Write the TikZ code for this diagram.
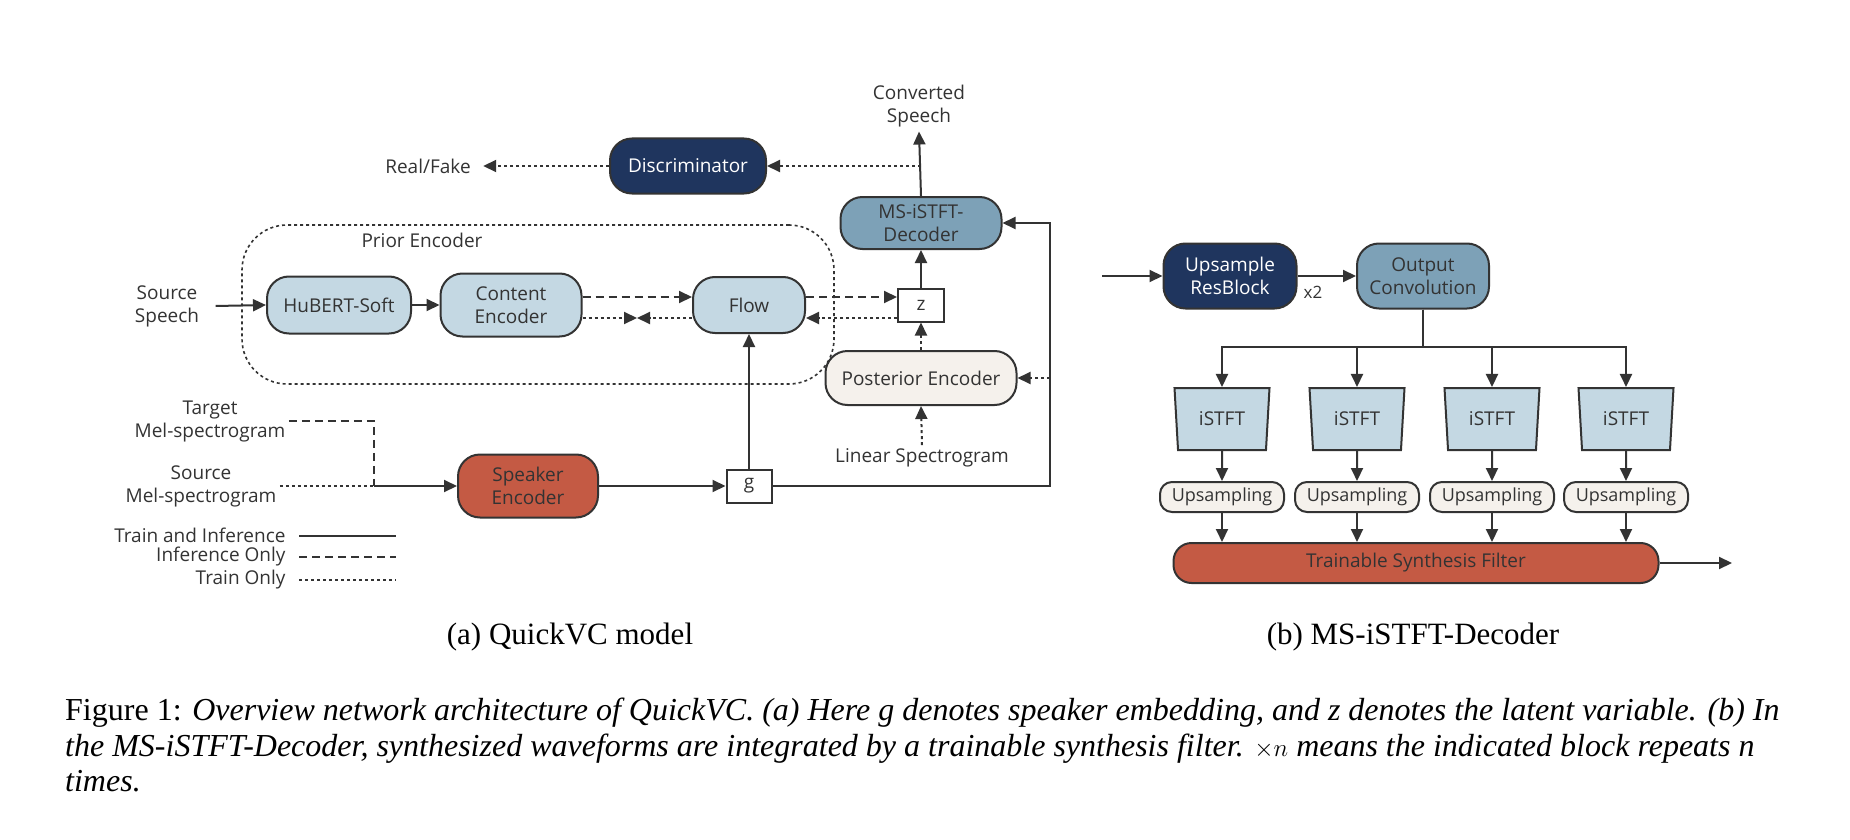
\documentclass[tikz,border=0pt]{standalone}
\usepackage{fontspec}
\setmainfont{Liberation Serif}
\newfontfamily\diafont{Open Sans}
\usetikzlibrary{arrows.meta,shapes.geometric,calc}
\definecolor{lblue}{RGB}{196,216,227}
\definecolor{mblue}{RGB}{125,161,183}
\definecolor{navy}{RGB}{31,53,94}
\definecolor{rust}{RGB}{196,90,68}
\definecolor{cream}{RGB}{245,241,236}
\definecolor{ink}{RGB}{51,51,51}
\tikzset{
  dfont/.style={font=\diafont\fontsize{19}{23}\selectfont},
  txt/.style={dfont, text=ink, align=center},
  box/.style={dfont, text=ink, draw=ink, line width=2pt, rounded corners=22pt, inner sep=0pt, align=center},
  sqbox/.style={dfont, text=ink, draw=ink, line width=2pt, fill=white, inner sep=0pt, minimum width=45pt, minimum height=33pt},
  arr/.style={draw=ink, line width=2pt, -{Triangle[length=13pt,width=12pt]}},
  ln/.style={draw=ink, line width=2pt},
  dotl/.style={dash pattern=on 3pt off 3pt},
  dashl/.style={dash pattern=on 8pt off 5pt},
  trap/.style={dfont, text=ink, draw=ink, line width=2pt, fill=lblue, trapezium, shape border rotate=180, trapezium stretches body, trapezium angle=76, minimum width=95pt, minimum height=62pt, inner sep=0pt},
  upbox/.style={box, fill=cream, rounded corners=12pt, minimum width=124pt, minimum height=30pt, font=\diafont\fontsize{18}{22}\selectfont},
  subcap/.style={font=\fontsize{31}{36}\selectfont, text=black},
  captxt/.style={font=\fontsize{32}{36}\selectfont, text=black}
}
\begin{document}
\begin{tikzpicture}[x=1pt,y=-1pt]
\useasboundingbox (0,0) rectangle (1850,840);
% ---------- (a) ----------
\node[draw=ink, line width=1.6pt, dotl, rounded corners=45pt, minimum width=592pt, minimum height=159pt, inner sep=0pt] (prior) at (538,304.5) {};
\node[txt] (priorlbl) at (422,240) {Prior Encoder};
\node[box, fill=navy, text=white, minimum width=156pt, minimum height=55pt] (disc) at (688,166) {Discriminator};
\node[txt] (rf) at (428,166) {Real/Fake};
\node[box, fill=mblue, minimum width=161pt, minimum height=52pt] (dec) at (921,223) {MS-iSTFT-\\Decoder};
\node[txt] (cs) at (919,106) {Converted\\Speech};
\node[sqbox, minimum width=46pt] (z) at (921,305) {z};
\node[box, fill=lblue, minimum width=112pt, minimum height=56pt] (flow) at (749,305) {Flow};
\node[box, fill=lblue, minimum width=144pt, minimum height=57pt] (hub) at (339,305) {HuBERT-Soft};
\node[box, fill=lblue, minimum width=141pt, minimum height=63pt] (ce) at (511,305) {Content\\Encoder};
\node[txt] (ss) at (167,306) {Source\\Speech};
\node[box, fill=cream, minimum width=191pt, minimum height=54pt] (post) at (921,378) {Posterior Encoder};
\node[txt] (lin) at (922,458) {Linear Spectrogram};
\node[sqbox] (g) at (749,486) {g};
\node[box, fill=rust, minimum width=140pt, minimum height=63pt] (spk) at (528,486) {Speaker\\Encoder};
\node[txt] (tgt) at (210,421) {Target\\Mel-spectrogram};
\node[txt] (src) at (201,486) {Source\\Mel-spectrogram};
\node[txt, anchor=east] (l1) at (289,535) {Train and Inference};
\node[txt, anchor=east] (l2) at (289,557) {Inference Only};
\node[txt, anchor=east] (l3) at (289,580) {Train Only};
\coordinate (l1e) at (396,536);
\coordinate (l2e) at (396,557);
\coordinate (l3e) at (396,580);
\coordinate (bt) at (637,318);
\coordinate (jn) at (374,486);
\coordinate (corner) at (1050,486);

\draw[arr, dotl] (disc.west) -- ([xshift=9pt]rf.east);
\draw[arr] (dec.north) -- ([yshift=-1pt]cs.south);
\draw[arr, dotl] (dec.north |- disc.east) -- (disc.east);
\draw[arr] (z.north) -- (dec.south);
\draw[arr, dashl] ([yshift=8pt]ce.east) -- ([yshift=8pt]flow.west);
\draw[arr, dashl] ([yshift=8pt]flow.east) -- ([yshift=8pt]z.west);
\draw[arr, dotl] ([yshift=-13pt]z.west) -- ([yshift=-13pt]flow.east);
\draw[arr, dotl] ([yshift=-13pt]flow.west) -- (bt);
\draw[arr, dotl] ([yshift=-13pt]ce.east) -- (bt);
\draw[arr] ([xshift=13pt]ss.east) -- (hub.west);
\draw[arr] (hub.east) -- (ce.west);
\draw[arr, dotl] (post.north) -- (z.south);
\draw[arr, dotl] (lin.north) -- (post.south);
\draw[arr] (g.north) -- (flow.south);
\draw[arr] (spk.east) -- (g.west);
\draw[arr] (g.east) -- (corner) |- (dec.east);
\draw[arr, dotl] (corner |- post.east) -- (post.east);
\draw[ln, dashl] (tgt.east) -| (jn);
\draw[ln, dotl] (src.east) -- (jn);
\draw[arr] (jn) -- (spk.west);
\draw[ln] ([xshift=10pt]l1.east |- l1e) -- (l1e);
\draw[ln, dashl] ([xshift=10pt]l2.east |- l2e) -- (l2e);
\draw[ln, dotl] ([xshift=10pt]l3.east |- l3e) -- (l3e);

% ---------- (b) ----------
\coordinate (inp) at (1102,276);
\node[box, fill=navy, text=white, minimum width=133pt, minimum height=65pt] (urb) at (1230,276) {Upsample\\ResBlock};
\node[box, fill=mblue, minimum width=132pt, minimum height=65pt] (oc) at (1423,276) {Output\\Convolution};
\node[txt, font=\diafont\fontsize{17}{20}\selectfont] (x2) at (1313,292) {x2};
\coordinate (bus) at (1423,347);
\foreach \i/\x in {1/1222,2/1357,3/1492,4/1626}{
  \node[trap] (ist\i) at (\x,419) {iSTFT};
  \node[upbox] (up\i) at (\x,497) {Upsampling};
}
\node[box, fill=rust, rounded corners=18pt, minimum width=485pt, minimum height=40pt] (filt) at (1416,563) {Trainable Synthesis Filter};
\coordinate (out) at (1732,563);
\draw[arr] (inp) -- (urb.west);
\draw[arr] (urb.east) -- (oc.west);
\foreach \i in {1,2,3,4}{
  \draw[arr] (oc.south) -- (bus) -| (ist\i.north);
  \draw[arr] (ist\i.south) -- (up\i.north);
  \draw[arr] (up\i.south) -- (up\i.south |- filt.north);
}
\draw[arr] (filt.east) -- (out);

% ---------- captions ----------
\node[subcap] (capa) at (570,637) {(a) QuickVC model};
\node[subcap] (capb) at (1413,637) {(b) MS-iSTFT-Decoder};
\node[captxt, anchor=base west, inner sep=0pt] (c1) at (65,720) {Figure 1: \textit{Overview network architecture of QuickVC. (a) Here g denotes speaker embedding, and z denotes the latent variable. (b) In}};
\node[captxt, anchor=base west, inner sep=0pt] (c2) at (65,756) {\textit{the MS-iSTFT-Decoder, synthesized waveforms are integrated by a trainable synthesis filter.} $\times n$ \textit{means the indicated block repeats n}};
\node[captxt, anchor=base west, inner sep=0pt] (c3) at (65,791) {\textit{times.}};
\end{tikzpicture}
\end{document}
